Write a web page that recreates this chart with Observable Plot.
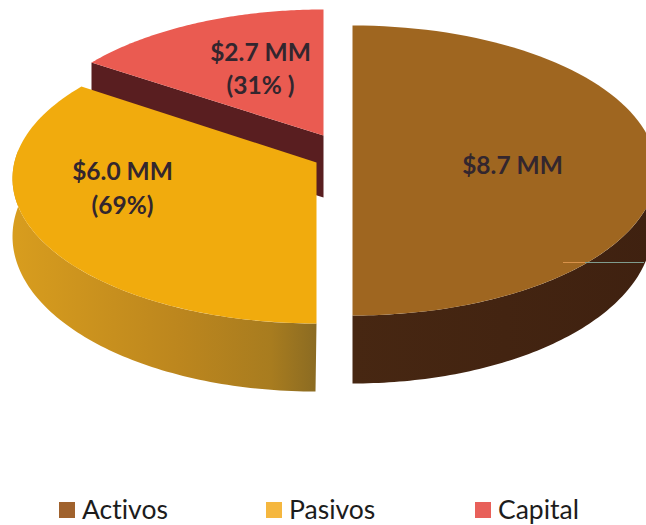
<!DOCTYPE html>
<html><head><meta charset="utf-8">
<script src="https://cdn.jsdelivr.net/npm/d3@7"></script>
<script src="https://cdn.jsdelivr.net/npm/@observablehq/plot@0.6"></script>
<style>
html,body{margin:0;padding:0;background:#fff;overflow:hidden;width:646px;height:525px}
#legend{position:relative;height:35px;font-family:Lato,sans-serif;font-size:26.5px;color:#1c1c1c;font-variant-ligatures:none}
#legend span{position:absolute;top:2px;line-height:35px;white-space:nowrap}
#legend i{position:absolute;top:12px;width:16px;height:16px}
</style></head><body>
<div id="chart"></div>
<div id="legend"></div>
<script>
const categories = ["Activos", "Pasivos", "Capital"];
const millions = [8.7, 6.0, 2.7];
const sliceLabels = [["$8.7 MM"], ["$6.0 MM", "(69%)"], ["$2.7 MM", "(31% )"]];

// Layout of the exploded pseudo-3D pie (separate from the data)
const W = 646, H = 490, TILT = 0.827;
const total = d3.sum(millions);
const turn = v => 2 * Math.PI * v / total;
const view = a => Math.atan2(Math.sin(a) * TILT, Math.cos(a));   // foreshortening of the slice angles
const capEnd = view(turn(millions[2]));

// Angles measured counter-clockwise from the top of the ellipse
const rim = (e, a) => ({x: e.cx - e.rx * Math.sin(a), y: e.cy - e.ry * Math.cos(a)});
const arc = (e, a0, a1, n = 90) => d3.range(n + 1).map(i => rim(e, a0 + (a1 - a0) * i / n));

const actTop = {cx: 352, cy: 170, rx: 304, ry: 145}, actBot = {cx: 352, cy: 228, rx: 300, ry: 155};
const pasTop = {cx: 316, cy: 178, rx: 304, ry: 145}, pasBot = {cx: 315, cy: 236, rx: 303, ry: 155};
const capTop = {cx: 323, cy: 154, rx: 300, ry: 145};
const pasApex = {x: 316, y: 162}, capApex = {x: 323, y: 135}, wallDrop = 62;

const shift = p => ({x: p.x, y: p.y + wallDrop});
const capCorner = rim(capTop, capEnd);

const activosSide = [...arc(actTop, -Math.PI / 2, -Math.PI), ...arc(actBot, -Math.PI, -Math.PI / 2)];
const activosFace = arc(actTop, 0, -Math.PI);
const pasivosSide = [...arc(pasTop, Math.PI / 2 - 0.2, Math.PI), ...arc(pasBot, Math.PI, Math.PI / 2 - 0.2)];
const pasivosFace = [pasApex, ...arc(pasTop, capEnd, Math.PI)];
const capitalWall = [capCorner, capApex, shift(capApex), shift(capCorner)];
const capitalFace = [capApex, ...arc(capTop, 0, capEnd)];

const labelRows = [
  {text: sliceLabels[0][0], x: 512, y: 166},
  {text: sliceLabels[1][0], x: 122, y: 172},
  {text: sliceLabels[1][1], x: 122, y: 206},
  {text: sliceLabels[2][0], x: 260, y: 53},
  {text: sliceLabels[2][1], x: 260, y: 86}
];
const leader = [
  {x1: 563, x2: 585, y: 262, color: "#d9924a"},
  {x1: 585, x2: 644, y: 262, color: "#7f9c8e"}
];

const defs = () => {
  const g = document.createElementNS("http://www.w3.org/2000/svg", "g");
  g.innerHTML = `<defs>
    <linearGradient id="pasSide" x1="0" x2="1" y1="0" y2="0">
      <stop offset="0" stop-color="#d89d1e"/><stop offset="0.55" stop-color="#bc861e"/>
      <stop offset="0.85" stop-color="#a87c1f"/><stop offset="1" stop-color="#8b6b22"/>
    </linearGradient>
    <linearGradient id="actSide" x1="0" x2="1" y1="0" y2="0">
      <stop offset="0" stop-color="#472712"/><stop offset="1" stop-color="#3f2110"/>
    </linearGradient>
  </defs>`;
  return g;
};
const poly = (pts, fill) => Plot.line(pts, {x: "x", y: "y", fill, stroke: "none", curve: "linear", clip: true});

const chart = Plot.plot({
  width: W, height: H, margin: 0,
  style: {background: "#fff", display: "block"},
  x: {domain: [0, W], range: [0, W], axis: null},
  y: {domain: [0, H], range: [0, H], axis: null},
  marks: [
    defs,
    poly(capitalWall, "#591e20"),
    poly(capitalFace, "#ea5b51"),
    poly(pasivosSide, "url(#pasSide)"),
    poly(pasivosFace, "#f1ab0d"),
    poly(activosSide, "url(#actSide)"),
    poly(activosFace, "#9f6620"),
    Plot.ruleY(leader, {y: "y", x1: "x1", x2: "x2", stroke: d => d.color, strokeWidth: 1}),
    Plot.text(labelRows, {
      x: "x", y: "y", text: "text", fontFamily: "Lato, sans-serif",
      fontWeight: 700, fontSize: 24.5, fill: "#33262e", textAnchor: "middle"
    })
  ],
  color: {type: "identity"}
});
document.getElementById("chart").appendChild(chart);

const swatchColors = ["#a0622d", "#f5b73f", "#e8605a"];
const swatchX = [59, 266, 475];
const legend = document.getElementById("legend");
categories.forEach((c, i) => {
  const sw = document.createElement("i");
  sw.style.left = swatchX[i] + "px"; sw.style.background = swatchColors[i];
  const t = document.createElement("span");
  t.style.left = (swatchX[i] + 23) + "px"; t.textContent = c;
  legend.append(sw, t);
});
</script>
</body></html>
